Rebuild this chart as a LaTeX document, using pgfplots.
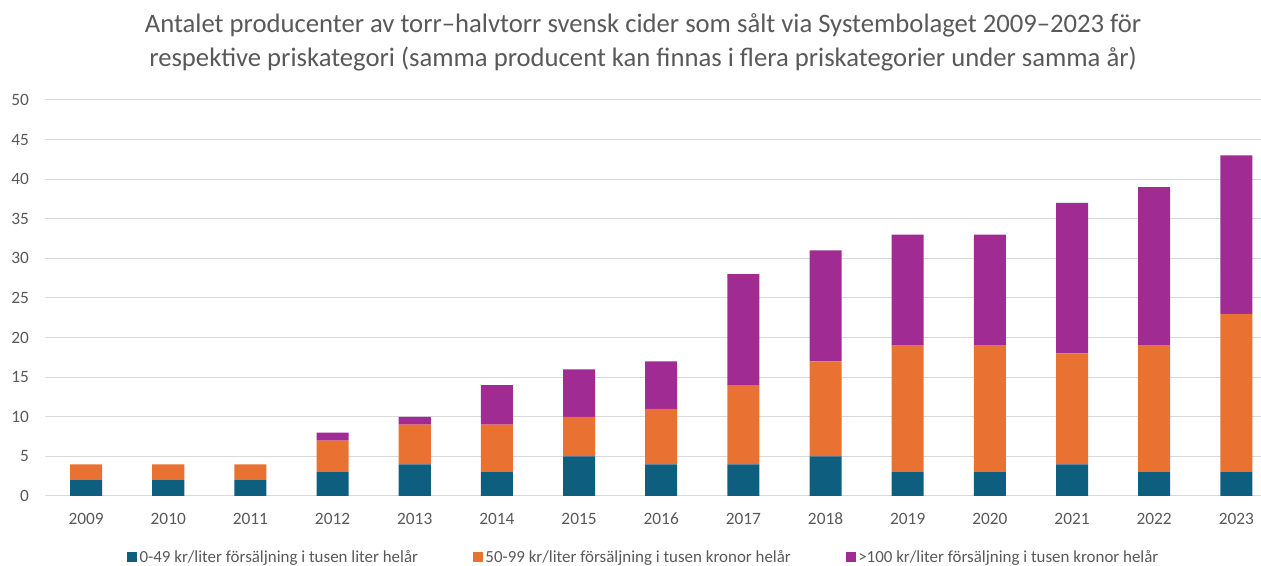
\documentclass[border=0pt]{standalone}
\usepackage{fontspec}
\setmainfont{Carlito}
\usepackage{pgfplots}
\pgfplotsset{compat=1.18}
\definecolor{cblue}{HTML}{0E5F7F}
\definecolor{corange}{HTML}{E97132}
\definecolor{cpurple}{HTML}{A02B93}
\definecolor{tickgray}{HTML}{595959}
\definecolor{gridgray}{HTML}{D9D9D9}
\begin{document}
\begin{tikzpicture}[x=1pt,y=1pt]
\useasboundingbox (-33.75,-52.5) rectangle (912,372);
\begin{axis}[
  at={(0,0)}, anchor=south west,
  scale only axis, width=912pt, height=297pt,
  ybar stacked, bar width=0.39,
  xmin=-0.5, xmax=14.3, ymin=0, ymax=50,
  xtick={0,...,14},
  xticklabels={2009,2010,2011,2012,2013,2014,2015,2016,2017,2018,2019,2020,2021,2022,2023},
  ytick={0,5,...,50},
  ymajorgrids, grid style={gridgray, line width=0.75pt},
  axis line style={draw=none},
  major tick length=0pt,
  tick style={draw=none},
  /pgf/number format/assume math mode=true,
  ticklabel style={font=\fontsize{13}{15}\selectfont, text=tickgray},
  yticklabel style={anchor=east, xshift=-8.5pt},
  xticklabel style={yshift=-8.8pt, text height=9.2pt, text depth=0pt},
  legend style={at={(axis description cs:0.4926,-0.155)}, anchor=center, draw=none,
    font=\fontsize{12.7}{14}\selectfont, text=tickgray,
    /tikz/every even column/.append style={column sep=39pt}},
  legend columns=3,
  legend image code/.code={\fill[#1] (0pt,-3.75pt) rectangle (7.5pt,3.75pt);},
]
\addplot[fill=cblue, draw=none] coordinates {(0,2) (1,2) (2,2) (3,3) (4,4) (5,3) (6,5) (7,4) (8,4) (9,5) (10,3) (11,3) (12,4) (13,3) (14,3)};
\addplot[fill=corange, draw=none] coordinates {(0,2) (1,2) (2,2) (3,4) (4,5) (5,6) (6,5) (7,7) (8,10) (9,12) (10,16) (11,16) (12,14) (13,16) (14,20)};
\addplot[fill=cpurple, draw=none] coordinates {(0,0) (1,0) (2,0) (3,1) (4,1) (5,5) (6,6) (7,6) (8,14) (9,14) (10,14) (11,14) (12,19) (13,20) (14,20)};
\legend{0-49 kr/liter försäljning i tusen liter helår, 50-99 kr/liter försäljning i tusen kronor helår, >100 kr/liter försäljning i tusen kronor helår}
\end{axis}
\node[font=\fontsize{20}{25.5}\selectfont, text=tickgray, align=center] at (448.5,340.1)
  {Antalet producenter av torr–halvtorr svensk cider som sålt via Systembolaget 2009–2023 för\\
   respektive priskategori (samma producent kan finnas i flera priskategorier under samma år)};
\end{tikzpicture}
\end{document}
